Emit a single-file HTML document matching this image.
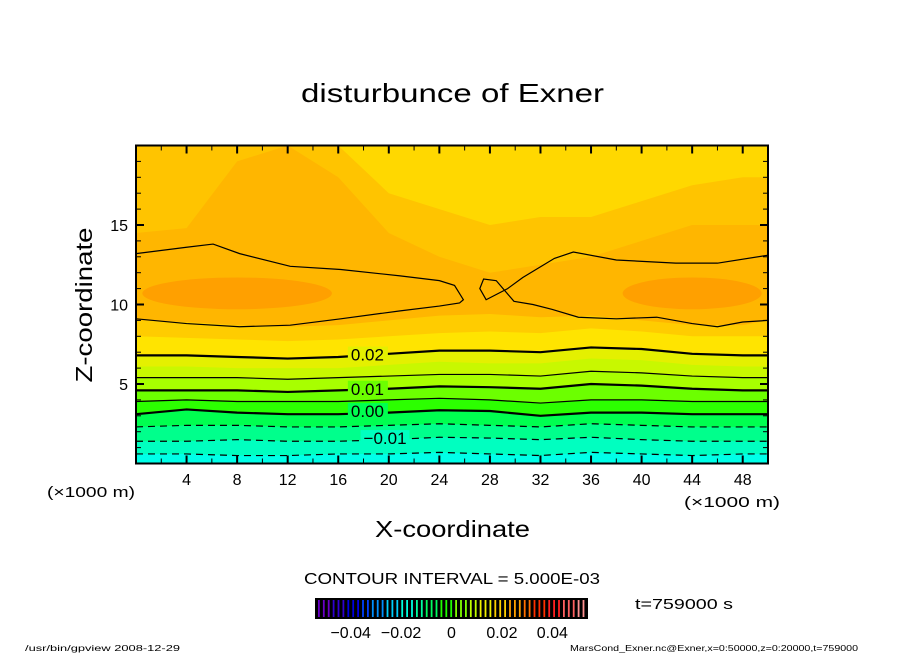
<!DOCTYPE html>
<html><head><meta charset="utf-8"><style>
body{margin:0;background:#fff;width:904px;height:654px;overflow:hidden;font-family:"Liberation Sans",sans-serif}
svg text{font-family:"Liberation Sans",sans-serif}
</style></head><body>
<svg id="chart" width="904" height="654" viewBox="0 0 904 654" xmlns="http://www.w3.org/2000/svg">
<defs><clipPath id="pc"><rect x="136" y="145.5" width="632" height="318"/></clipPath></defs>
<g id="plot" clip-path="url(#pc)"></g>
<g id="axes"></g>
<text x="301" y="102" font-size="26" textLength="303" lengthAdjust="spacingAndGlyphs">disturbunce of Exner</text>
<text transform="translate(92,305) rotate(-90)" font-size="23" text-anchor="middle" textLength="155" lengthAdjust="spacingAndGlyphs">Z-coordinate</text>
<text x="375" y="537" font-size="23" textLength="155" lengthAdjust="spacingAndGlyphs">X-coordinate</text>
<text x="47" y="497" font-size="15" textLength="88" lengthAdjust="spacingAndGlyphs">(×1000 m)</text>
<text x="684" y="507" font-size="15" textLength="96" lengthAdjust="spacingAndGlyphs">(×1000 m)</text>
<text x="304" y="584" font-size="16" textLength="296" lengthAdjust="spacingAndGlyphs">CONTOUR INTERVAL = 5.000E-03</text>
<g id="cbar"></g>
<text x="635" y="609" font-size="15" textLength="98" lengthAdjust="spacingAndGlyphs">t=759000 s</text>
<text x="25" y="651" font-size="8" textLength="155" lengthAdjust="spacingAndGlyphs">/usr/bin/gpview   2008-12-29</text>
<text x="570" y="651" font-size="8" textLength="288" lengthAdjust="spacingAndGlyphs">MarsCond_Exner.nc@Exner,x=0:50000,z=0:20000,t=759000</text>
</svg>
<script>
const xs=[0,4,8,12,16,20,24,28,32,36,40,44,48,50];
const bandTops=[
 [0.6,0.6,0.5,0.5,0.6,0.6,0.7,0.6,0.5,0.7,0.6,0.5,0.6,0.6],
 [1.4,1.4,1.5,1.4,1.4,1.5,1.65,1.6,1.5,1.65,1.5,1.4,1.4,1.4],
 [2.3,2.4,2.4,2.3,2.3,2.4,2.5,2.4,2.3,2.5,2.4,2.3,2.3,2.3],
 [3.1,3.4,3.2,3.1,3.1,3.2,3.35,3.3,3.0,3.2,3.2,3.1,3.1,3.1],
 [3.9,4.0,3.9,3.9,3.9,4.0,4.1,4.0,3.8,4.0,4.0,3.9,3.9,3.9],
 [4.6,4.6,4.6,4.5,4.6,4.7,4.85,4.8,4.7,5.0,4.9,4.7,4.6,4.6],
 [5.4,5.4,5.4,5.3,5.4,5.5,5.6,5.6,5.5,5.8,5.7,5.5,5.4,5.4],
 [6.1,6.1,6.0,6.0,6.0,6.2,6.4,6.3,6.3,6.6,6.5,6.2,6.1,6.1],
 [6.8,6.8,6.7,6.6,6.7,6.9,7.1,7.1,7.0,7.3,7.2,6.9,6.8,6.8],
 [8.0,7.9,7.8,7.7,7.8,8.0,8.2,8.3,8.2,8.5,8.3,8.0,8.0,8.0],
 [9.0,8.9,8.7,8.6,8.7,9.0,9.3,9.4,9.2,9.3,9.0,8.7,8.7,9.0],
 [14.5,14.8,19,20,18,14.5,13,12,12.5,13,14,15,15,15],
 [20,20,20,20,20,17,16,15,15.5,15.5,16.5,17.5,18,18]
];
const bandColors=["#00ffe8","#00ffc0","#00ff8c","#00ff50","#2cff00","#6cff00","#a8ff00","#c8f800","#e4f000","#ffe400","#ffcc00","#ffb600","#ffc400"];
const topColor="#ffd800";
const contourLevels=["-0.015","-0.01","-0.005","0.00","0.005","0.01","0.015","0.02"];
const contourStyle=["dash","dash","dash","thick","thin","thick","thin","thick"];
const contourIdx=[0,1,2,3,4,5,6,8];
const loopLeft=[[0,13.2],[4,13.6],[6.1,13.8],[8.2,13.2],[12.2,12.4],[16.2,12.2],[20.9,11.8],[24,11.5],[25.2,11.2],[25.9,10.3],[25.6,10.1],[24,9.9],[20.9,9.6],[16.2,9.1],[12.2,8.7],[8.2,8.6],[4,8.8],[0,9.1]];
const loopRight=[[50,13.1],[46,12.6],[42.7,12.6],[38,12.8],[34.6,13.3],[33.1,12.9],[30.6,11.7],[29.4,11.0],[27.7,10.3],[27.2,11.0],[27.5,11.6],[28.5,11.5],[29.9,10.2],[31.4,10.0],[32.9,9.7],[35,9.2],[38,9.1],[41.2,9.2],[44,8.8],[46,8.6],[48,8.9],[50,9.0]];
const blobs=[[8,10.7,7.5,1.0],[44,10.7,5.5,1.0]];
const xTicks=[4,8,12,16,20,24,28,32,36,40,44,48];
const yTicks=[5,10,15];
const cbTicks=[-0.04,-0.02,0,0.02,0.04];

const X=v=>136+v*632/50, Y=v=>463.5-v*318/20;
const NS="http://www.w3.org/2000/svg";
function mk(tag,attrs,parent){const e=document.createElementNS(NS,tag);for(const k in attrs)e.setAttribute(k,attrs[k]);parent.appendChild(e);return e;}
const plot=document.getElementById('plot'), axes=document.getElementById('axes');
const bg=mk('rect',{x:136,y:145,width:632,height:319,fill:topColor},plot);


for(let i=bandTops.length-1;i>=0;i--){
  const top=bandTops[i];
  let d='M'+X(0)+','+Y(0);
  xs.forEach((x,j)=>{d+=' L'+X(x)+','+Y(top[j]);});
  d+=' L'+X(50)+','+Y(0)+'Z';
  const p=mk('path',{d:d,fill:bandColors[i]},plot);
  
  
}
blobs.forEach((b,i)=>{
  const e=mk('ellipse',{cx:X(b[0]),cy:Y(b[1]),rx:b[2]*632/50,ry:b[3]*318/20,fill:"#ffa000"},plot);
  
  
});
function line(pts,style,name){
  const d='M'+pts.map(p=>X(p[0])+','+Y(p[1])).join(' L');
  const a={d:d,fill:'none',stroke:'#000','stroke-width':style=='thick'?2.2:1.2};
  if(style=='dash')a['stroke-dasharray']='7,5';
  const p=mk('path',a,plot);
  
  
}
contourIdx.forEach((bi,k)=>{
  line(xs.map((x,j)=>[x,bandTops[bi][j]]),contourStyle[k],'contour-'+contourLevels[k]);
});
line(loopLeft,'thin','contour-0.03-left');
line(loopRight,'thin','contour-0.03-right');
const labs=[["0.02",17,6.85,8],["0.01",17,4.7,5],["0.00",17,3.3,3],["−0.01",18,1.6,1]];
labs.forEach(l=>{
  const r=mk('rect',{x:X(l[1])-3,y:Y(l[2])-8,width:l[0].length*9+4,height:16,fill:bandColors[l[3]]},plot);
  
  
  const t=mk('text',{x:X(l[1]),y:Y(l[2])+6,'font-size':17},plot);
  t.textContent=l[0];
  
  
});
const fr=mk('rect',{x:136,y:145.5,width:632,height:318,fill:'none',stroke:'#000','stroke-width':2},axes);


for(let v=2;v<50;v+=2){
  const major=v%4==0, L=major?8:5;
  mk('line',{x1:X(v),x2:X(v),y1:463.5,y2:463.5-L,stroke:'#000','stroke-width':major?2:1},axes);
  mk('line',{x1:X(v),x2:X(v),y1:145.5,y2:145.5+L,stroke:'#000','stroke-width':major?2:1},axes);
}
for(let v=1;v<20;v++){
  const major=v%5==0, L=major?8:5;
  mk('line',{x1:136,x2:136+L,y1:Y(v),y2:Y(v),stroke:'#000','stroke-width':major?2:1},axes);
  mk('line',{x1:768,x2:768-L,y1:Y(v),y2:Y(v),stroke:'#000','stroke-width':major?2:1},axes);
}
xTicks.forEach(v=>{const t=mk('text',{x:X(v),y:485,'font-size':16,'text-anchor':'middle'},axes);t.textContent=v;
  
  });
yTicks.forEach(v=>{const t=mk('text',{x:128,y:Y(v)+6,'font-size':16,'text-anchor':'end'},axes);t.textContent=v;
  
  });
const cb=document.getElementById('cbar');
mk('rect',{x:315,y:598,width:273,height:21,fill:'#000'},cb);
const cbCols=["#6a00c8","#3000d0","#0000e0","#0040ff","#0090ff","#00d0ff","#00ffe0","#00ffa0","#00ff60","#20ff00","#80ff00","#c0ff00","#f0f000","#ffd000","#ffa000","#ff7000","#ff3000","#ff2020","#ff6060","#ff9090"];
for(let i=0;i<55;i++){
  const c=cbCols[Math.floor(i*cbCols.length/55)];
  mk('rect',{x:318+i*4.9,y:600,width:1.8,height:17,fill:c},cb);
}
cbTicks.forEach(v=>{const t=mk('text',{x:451.5+v*2520,y:638,'font-size':16,'text-anchor':'middle'},cb);t.textContent=(v<0?'−':'')+(v==0?'0':Math.abs(v).toFixed(2));
  
  });
</script>
</body></html>
